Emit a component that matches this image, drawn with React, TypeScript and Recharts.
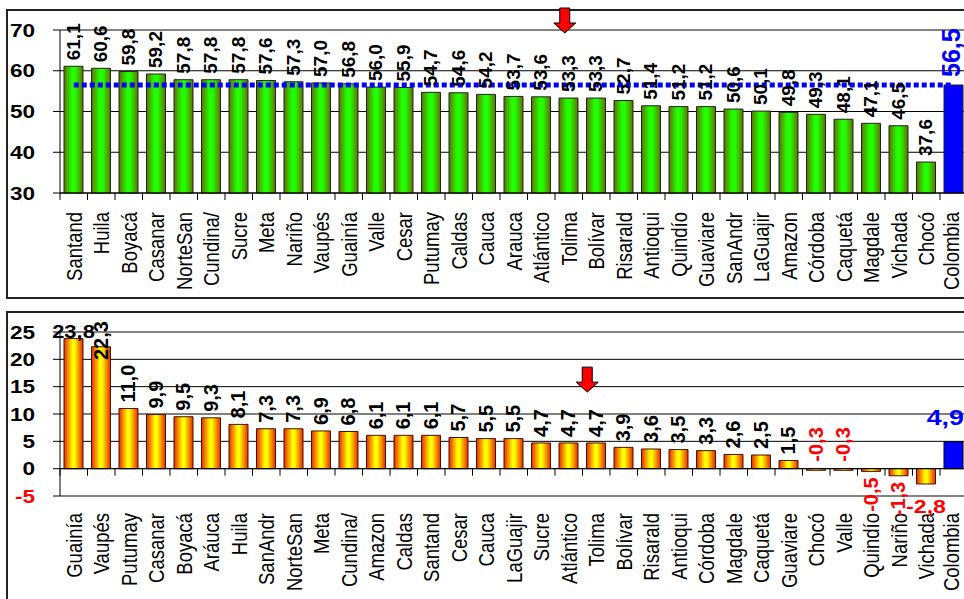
import React from 'react';
import {
  BarChart,
  Bar,
  XAxis,
  YAxis,
  CartesianGrid,
  ReferenceLine,
  ReferenceDot,
  LabelList,
  Cell
} from 'recharts';

// Cobertura por departamento (panel superior)
const topCategories = [
  'Santand', 'Huila', 'Boyacá', 'Casanar', 'NorteSan', 'Cundina/', 'Sucre', 'Meta', 'Nariño',
  'Vaupés', 'Guainía', 'Valle', 'Cesar', 'Putumay', 'Caldas', 'Cauca', 'Arauca', 'Atlántico',
  'Tolima', 'Bolívar', 'Risarald', 'Antioqui', 'Quindío', 'Guaviare', 'SanAndr', 'LaGuajir',
  'Amazon', 'Córdoba', 'Caquetá', 'Magdale', 'Vichada', 'Chocó', 'Colombia'
];
const topValues = [
  61.1, 60.6, 59.8, 59.2, 57.8, 57.8, 57.8, 57.6, 57.3,
  57.0, 56.8, 56.0, 55.9, 54.7, 54.6, 54.2, 53.7, 53.6,
  53.3, 53.3, 52.7, 51.4, 51.2, 51.2, 50.6, 50.1,
  49.8, 49.3, 48.1, 47.1, 46.5, 37.6, 56.5
];
const topTicks = [30, 40, 50, 60, 70];
const nationalLevel = 56.5;

// Variación por departamento (panel inferior)
const bottomCategories = [
  'Guainía', 'Vaupés', 'Putumay', 'Casanar', 'Boyacá', 'Aráuca', 'Huila', 'SanAndr', 'NorteSan',
  'Meta', 'Cundina/', 'Amazon', 'Caldas', 'Santand', 'Cesar', 'Cauca', 'LaGuajir', 'Sucre',
  'Atlántico', 'Tolima', 'Bolívar', 'Risarald', 'Antioqui', 'Córdoba', 'Magdale', 'Caquetá',
  'Guaviare', 'Chocó', 'Valle', 'Quindío', 'Nariño', 'Vichada', 'Colombia'
];
const bottomValues = [
  23.8, 22.3, 11.0, 9.9, 9.5, 9.3, 8.1, 7.3, 7.3,
  6.9, 6.8, 6.1, 6.1, 6.1, 5.7, 5.5, 5.5, 4.7,
  4.7, 4.7, 3.9, 3.6, 3.5, 3.3, 2.6, 2.5,
  1.5, -0.3, -0.3, -0.5, -1.3, -2.8, 4.9
];
const bottomTicks = [-5, 0, 5, 10, 15, 20, 25];

const highlighted = 'Tolima';
const nationName = 'Colombia';
const flatLabels = ['Guainía', 'Vichada', 'Colombia'];

const FONT = '"Liberation Sans", Arial, sans-serif';
const CHART_W = 980;
const RIGHT = 12.5;
const AXIS_W = 60;
const BAND = (CHART_W - AXIS_W - RIGHT) / topCategories.length;
const STRETCH = 1.22;

const TOP_H = 300;
const BOT_H = 299;
const BOT_TOP = 32;
const BOT_PLOT_H = 164;

const topData = topCategories.map((name, i) => ({ name, value: topValues[i] }));
const bottomData = bottomCategories.map((name, i) => ({ name, value: bottomValues[i] }));

const fmt = (v: number) => Number(v).toFixed(1).replace('.', ',');

const YTick = (props: any) => {
  const { x, y, payload } = props;
  const neg = payload.value < 0;
  return (
    <text transform={`translate(${x} ${y}) scale(${STRETCH} 1)`} x={0} y={0} textAnchor="end"
      dominantBaseline="central" fontFamily={FONT} fontSize={18.5} fontWeight="bold"
      fill={neg ? '#ff0000' : '#000'}>
      {payload.value}
    </text>
  );
};

const makeXTick = (labelOffset: number, tickY: number) => (props: any) => {
  const { x, y, payload } = props;
  const tx = payload.value === nationName ? x - 3 : x;
  const ty = y + labelOffset;
  const ly = y + tickY;
  return (
    <g>
      <line x1={x - BAND / 2} x2={x - BAND / 2} y1={ly} y2={ly + 7} stroke="#000" />
      <text transform={`translate(${tx} ${ty}) rotate(-90) scale(1 ${STRETCH})`} x={0} y={0}
        textAnchor="end" dominantBaseline="central" fontFamily={FONT} fontSize={18.5} fill="#000">
        {payload.value}
      </text>
    </g>
  );
};

const TopLabel = (props: any) => {
  const { x, y, width, value, index } = props;
  const nation = topCategories[index] === nationName;
  const cx = Number(x) + Number(width) / 2 - (nation ? 2 : 0);
  const ay = Number(y) - (nation ? 8 : 6);
  return (
    <text x={cx} y={ay} transform={`rotate(-90 ${cx} ${ay})`} textAnchor="start"
      dominantBaseline="central" fontFamily={FONT} fontWeight="bold"
      fontSize={nation ? 25 : 19} fill={nation ? '#0000ff' : '#000'}>
      {fmt(value)}
    </text>
  );
};

const FlatText = ({ x, y, anchor, size, color, children }: any) => (
  <text transform={`translate(${x} ${y}) scale(${STRETCH} 1)`} x={0} y={0} textAnchor={anchor}
    fontFamily={FONT} fontWeight="bold" fontSize={size} fill={color}>
    {children}
  </text>
);

const BottomLabel = (props: any) => {
  const { x, y, width, height, value, index } = props;
  const name = bottomCategories[index];
  const cx = Number(x) + Number(width) / 2;
  const top = Math.min(Number(y), Number(y) + Number(height));
  const bottom = Math.max(Number(y), Number(y) + Number(height));
  const flat = flatLabels.includes(name);
  const common = { fontFamily: FONT, fontWeight: 'bold' as const };

  if (name === nationName) {
    return <FlatText x={Number(x) + Number(width) + 1} y={top - 17} anchor="end" size={22} color="#0000ff">{fmt(value)}</FlatText>;
  }
  if (value >= 0) {
    if (flat) {
      return <FlatText x={cx} y={top - 1} anchor="middle" size={18} color="#000">{fmt(value)}</FlatText>;
    }
    const ay = Math.max(top - 6, BOT_TOP + 28);
    return (
      <text x={cx} y={ay} transform={`rotate(-90 ${cx} ${ay})`} textAnchor="start"
        dominantBaseline="central" fontSize={20} fill="#000" {...common}>{fmt(value)}</text>
    );
  }
  if (value > -0.4) {
    const ay = top - 7;
    return (
      <text x={cx} y={ay} transform={`rotate(-90 ${cx} ${ay})`} textAnchor="start"
        dominantBaseline="central" fontSize={20} fill="#ff0000" {...common}>{fmt(value)}</text>
    );
  }
  if (flat) {
    return <FlatText x={cx} y={bottom + 29} anchor="middle" size={19} color="#ff0000">{fmt(value)}</FlatText>;
  }
  const ay = bottom + 6;
  return (
    <text x={cx} y={ay} transform={`rotate(-90 ${cx} ${ay})`} textAnchor="end"
      dominantBaseline="central" fontSize={20} fill="#ff0000" {...common}>{fmt(value)}</text>
  );
};

const arrowShape = (dx: number, dy: number) => (props: any) => {
  const { cx, cy } = props;
  const x = cx + dx;
  const tip = cy + dy;
  const pts = [
    [x - 5, tip - 25], [x + 5, tip - 25], [x + 5, tip - 10], [x + 11, tip - 10],
    [x, tip], [x - 11, tip - 10], [x - 5, tip - 10]
  ].map((p) => p.join(',')).join(' ');
  return <polygon points={pts} fill="#ff0000" stroke="#000" strokeWidth={1} />;
};

const panelBorder: React.CSSProperties = {
  position: 'absolute',
  left: 6,
  width: 1000,
  border: '2px solid #222',
  boxSizing: 'border-box'
};

export default function App() {
  return (
    <div style={{ position: 'fixed', left: 0, top: 0, width: 964, height: 599, overflow: 'hidden', background: '#fff' }}>
      <div style={{ ...panelBorder, top: 9, height: 290 }} />
      <div style={{ ...panelBorder, top: 311, height: 300 }} />

      <div style={{ position: 'absolute', left: 0, top: 0 }}>
        <BarChart width={CHART_W} height={TOP_H} data={topData}
          margin={{ top: 30, right: RIGHT, bottom: 7, left: 0 }} barSize={19}>
          <defs>
            <linearGradient id="gGreen" x1="0" y1="0" x2="1" y2="0">
              <stop offset="0%" stopColor="#5f7200" />
              <stop offset="42%" stopColor="#22ff00" />
              <stop offset="58%" stopColor="#22ff00" />
              <stop offset="100%" stopColor="#5f7200" />
            </linearGradient>
          </defs>
          <CartesianGrid vertical={false} stroke="#000" />
          <ReferenceLine y={70} stroke="#888" />
          <XAxis dataKey="name" interval={0} height={100} tickSize={0} tickMargin={0}
            axisLine={{ stroke: '#000' }} tick={makeXTick(19, 0)} />
          <YAxis domain={[30, 70]} ticks={topTicks} width={AXIS_W} interval={0}
            tickSize={7} tickMargin={18} axisLine={{ stroke: '#000' }} tickLine={{ stroke: '#000' }}
            tick={<YTick />} />
          <Bar dataKey="value" isAnimationActive={false} stroke="#222" strokeWidth={1}>
            {topData.map((d) => (
              <Cell key={d.name} fill={d.name === nationName ? '#0000ff' : 'url(#gGreen)'} />
            ))}
            <LabelList dataKey="value" content={<TopLabel />} />
          </Bar>
          <ReferenceLine
            segment={[{ x: topCategories[0], y: nationalLevel }, { x: nationName, y: nationalLevel }]}
            stroke="#0000ff" strokeWidth={5} strokeDasharray="5 3" />
          <ReferenceDot x={highlighted} y={70} r={0} ifOverflow="visible" shape={arrowShape(-4, 3)} />
        </BarChart>
      </div>

      <div style={{ position: 'absolute', left: 0, top: 300 }}>
        <BarChart width={CHART_W} height={BOT_H} data={bottomData}
          margin={{ top: BOT_TOP, right: RIGHT, bottom: 3, left: 0 }} barSize={19}>
          <defs>
            <linearGradient id="gOrange" x1="0" y1="0" x2="1" y2="0">
              <stop offset="0%" stopColor="#e82a00" />
              <stop offset="45%" stopColor="#ffff00" />
              <stop offset="55%" stopColor="#ffff00" />
              <stop offset="100%" stopColor="#e82a00" />
            </linearGradient>
          </defs>
          <CartesianGrid vertical={false} stroke="#000" />
          <ReferenceLine y={25} stroke="#888" />
          <XAxis dataKey="name" interval={0} height={100} tickSize={0} tickMargin={0}
            axisLine={{ stroke: '#888' }} tick={makeXTick(17, -(BOT_PLOT_H * 5) / 30)} />
          <YAxis domain={[-5, 25]} ticks={bottomTicks} width={AXIS_W} interval={0}
            tickSize={7} tickMargin={18} axisLine={{ stroke: '#000' }} tickLine={{ stroke: '#000' }}
            tick={<YTick />} />
          <ReferenceLine y={0} stroke="#000" />
          <Bar dataKey="value" isAnimationActive={false} stroke="#4a1200" strokeWidth={1}>
            {bottomData.map((d) => (
              <Cell key={d.name} fill={d.name === nationName ? '#0000ff' : 'url(#gOrange)'}
                stroke={d.name === nationName ? '#000' : '#4a1200'} />
            ))}
            <LabelList dataKey="value" content={<BottomLabel />} />
          </Bar>
          <ReferenceDot x={highlighted} y={14} r={0} ifOverflow="visible" shape={arrowShape(-9, 0)} />
        </BarChart>
      </div>
    </div>
  );
}
